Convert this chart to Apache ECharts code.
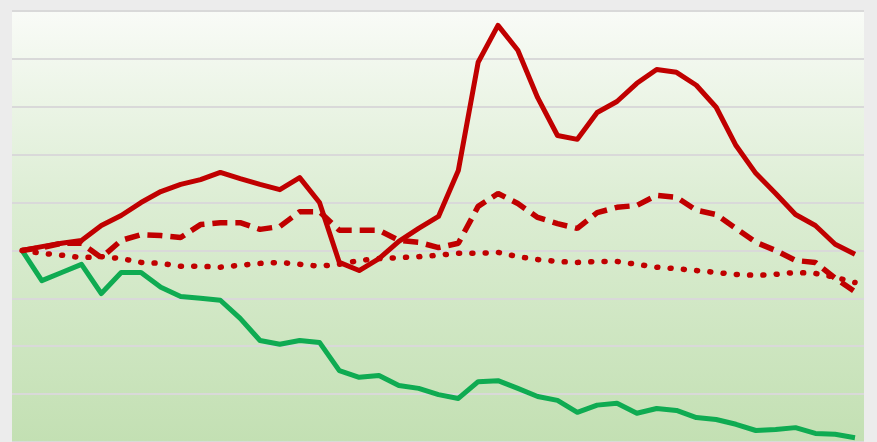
<!DOCTYPE html>
<html>
<head>
<meta charset="utf-8">
<script src="https://cdn.jsdelivr.net/npm/echarts@6/dist/echarts.min.js"></script>
<style>
html,body{margin:0;padding:0;background:#ececec;}
#chart{width:877px;height:442px;}
</style>
</head>
<body>
<div id="chart"></div>
<script>
// Index values (start = 100)
const solidRed = [100,100.8,101.5,102.1,105.2,107.3,110.0,112.3,113.8,114.8,116.3,115.0,113.8,112.7,115.2,110.0,97.5,95.8,98.3,101.9,104.6,107.1,116.7,139.3,147.0,141.8,131.9,124.0,123.2,128.8,131.1,134.9,137.8,137.2,134.5,129.9,121.9,116.1,111.9,107.5,105.2,101.3,99.2];
const dashedRed = [100,100.6,101.5,101.5,98.5,102.1,103.3,103.1,102.7,105.4,105.8,105.8,104.4,105.0,108.1,108.1,104.2,104.2,104.2,102.1,101.7,100.6,101.5,109.2,111.9,109.8,106.9,105.6,104.6,107.9,109.0,109.4,111.5,111.1,108.4,107.5,104.6,101.7,100.0,97.9,97.5,94.2,91.4];
const dottedRed = [100,99.4,99.0,98.5,98.7,98.3,97.5,97.3,96.7,96.7,96.5,96.9,97.3,97.5,97.1,96.7,97.1,97.9,98.3,98.5,98.7,99.0,99.4,99.4,99.6,98.7,98.1,97.7,97.5,97.7,97.7,97.1,96.5,96.2,95.8,95.4,95.0,94.8,95.0,95.4,95.2,94.4,93.3];
const greenLine = [100,93.7,95.4,97.1,91.0,95.4,95.4,92.3,90.4,90.0,89.6,85.8,81.2,80.4,81.2,80.8,74.9,73.5,73.9,71.8,71.2,69.9,69.1,72.6,72.8,71.2,69.5,68.7,66.2,67.7,68.1,66.0,67.0,66.6,65.1,64.7,63.7,62.4,62.6,63.0,61.8,61.6,60.9];
const yMin = 60, yMax = 150, yStep = 10;

const toPairs = arr => arr.map((v, i) => [i, v]);
const chart = echarts.init(document.getElementById('chart'), null, {renderer: 'canvas'});
const RED = '#c00000';
chart.setOption({
  animation: false,
  backgroundColor: '#ececec',
  grid: {
    left: 12, right: 13, top: 11, bottom: 0,
    show: true, borderWidth: 0,
    backgroundColor: new echarts.graphic.LinearGradient(0, 0, 0, 1, [
      {offset: 0, color: '#f9fbf7'},
      {offset: 0.45, color: '#dcedd3'},
      {offset: 1, color: '#c3e0b3'}
    ])
  },
  xAxis: {
    type: 'value', min: -0.504, max: 42.454, show: false
  },
  yAxis: {
    type: 'value', min: yMin, max: yMax, interval: yStep,
    axisLine: {show: false}, axisTick: {show: false}, axisLabel: {show: false},
    splitLine: {show: true, lineStyle: {color: '#d9d9d9', width: 2}}
  },
  series: [
    {type: 'line', data: toPairs(greenLine), showSymbol: false,
     lineStyle: {color: '#0fab52', width: 5, join: 'round'}},
    {type: 'line', data: toPairs(dottedRed), showSymbol: false,
     lineStyle: {color: RED, width: 5.5, type: [1, 12.3], cap: 'round'}},
    {type: 'line', data: toPairs(dashedRed), showSymbol: false,
     lineStyle: {color: RED, width: 5.5, type: [15, 8]}},
    {type: 'line', data: toPairs(solidRed), showSymbol: false,
     lineStyle: {color: RED, width: 5, join: 'round'}}
  ]
});
</script>
</body>
</html>
